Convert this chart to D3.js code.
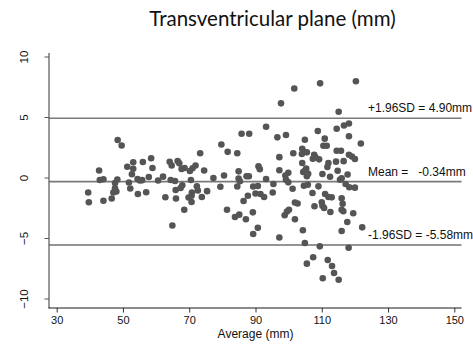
<!DOCTYPE html>
<html>
<head>
<meta charset="utf-8">
<script src="https://cdn.jsdelivr.net/npm/d3@7"></script>
<style>
  html, body { margin: 0; padding: 0; background: #fff; }
  svg { display: block; }
  text { font-family: "Liberation Sans", Arial, sans-serif; }
</style>
</head>
<body>
<svg id="chart" width="473" height="347"></svg>
<script>
// Bland–Altman agreement: average of two measurements vs. their difference (mm)
const averages = [
  39.5, 39.7, 42.8, 43.0, 44.1, 44.1, 46.6, 47.1, 47.6, 48.0, 47.6, 48.3, 48.4, 49.6,
  51.3, 51.8, 52.2, 52.7, 53.1, 53.1, 54.4, 55.1, 55.8, 54.5, 56.0, 57.0, 57.8, 58.5,
  58.9, 60.6, 62.1, 62.8, 64.1, 64.7, 64.4, 65.7, 65.9, 66.0, 64.9, 66.5, 67.0, 67.7,
  68.6, 67.9, 67.4, 68.5, 70.2, 71.0, 71.9, 70.5, 72.3, 72.6, 70.8, 69.8, 70.7, 70.7,
  73.3, 74.5, 73.8, 75.4, 77.3, 79.7, 81.6, 80.5, 79.4, 81.4, 84.5, 84.9, 84.9, 85.3,
  84.5, 85.8, 88.1, 87.3, 88.0, 87.7, 86.4, 89.3, 90.7, 90.0, 91.5, 92.6, 90.9, 91.3,
  93.2, 93.2, 95.4, 95.2, 83.8, 85.1, 87.1, 89.2, 90.7, 89.3, 97.2, 96.6, 99.2, 97.2,
  97.2, 97.7, 101.4, 101.7, 99.9, 99.0, 99.2, 99.9, 101.2, 101.9, 102.7, 98.8, 99.5,
  100.1, 101.9, 104.1, 104.7, 104.0, 105.5, 104.9, 104.1, 105.3, 104.9, 104.4, 105.9,
  105.5, 104.6, 105.8, 107.2, 107.8, 104.3, 104.9, 107.7, 108.1, 107.3, 109.2, 108.8,
  109.5, 110.9, 110.5, 111.5, 112.0, 111.7, 110.2, 112.5, 109.0, 110.0, 110.2, 110.7,
  111.0, 112.0, 113.0, 112.6, 109.4, 107.4, 105.5, 111.8, 113.1, 113.7, 115.1, 110.3,
  114.5, 115.8, 114.3, 116.6, 114.8, 115.1, 114.5, 116.7, 118.2, 118.2, 118.2, 119.1,
  120.0, 120.3, 121.8, 117.8, 116.0, 117.2, 118.3, 120.0, 116.0, 116.3, 116.0, 116.5,
  119.5, 117.7, 116.0, 122.2, 118.1, 115.5
];
const differences = [
  -1.24, -2.04, 0.58, -0.21, -0.14, -1.92, -1.74, -1.24, -0.89, -1.16, -0.45, -0.17, 3.10, 2.64,
  0.89, -0.41, -0.91, 0.27, 1.26, 0.72, -0.12, -0.25, -0.22, -1.36, 1.28, -1.22, 0.04, 1.59,
  0.79, -0.25, 0.07, -1.63, 1.30, 0.99, -0.21, -0.29, -1.03, -1.74, -3.97, 1.36, 1.17, 0.70,
  0.79, -0.64, -0.87, -2.66, 0.54, 0.76, 0.99, -0.21, -0.73, -1.07, -1.24, -1.65, -2.02, -1.51,
  2.00, 0.58, -1.61, -1.13, -0.04, 2.73, 2.12, 0.17, -0.76, -2.66, 2.00, 0.51, -0.08, -0.31,
  -0.74, 3.61, 3.61, 0.10, 0.10, -1.51, -1.94, -0.74, -0.70, -1.32, -1.36, -1.61, 0.93, 0.69,
  4.20, -0.12, -0.54, -1.24, -3.26, -3.07, -3.45, -2.88, -4.16, -4.67, -4.96, 3.32, 3.51, 1.68,
  0.60, 6.13, 2.00, 7.35, 0.39, 0.17, -0.19, -0.40, -0.93, -2.07, -2.15, -3.12, -2.81,
  -2.66, -3.45, 2.38, 2.13, 1.94, 2.08, 3.12, 1.20, 0.73, 0.56, 0.45, 0.31,
  0.10, -0.68, -0.60, -1.28, -2.38, -4.36, -5.41, 1.88, 1.67, 1.55, 1.50, 3.84,
  7.78, 3.21, 2.63, 2.63, 1.20, 0.87, 0.29, 0.06, -0.73, -2.05, -2.33, -2.52,
  -1.36, -1.61, -1.64, -2.85, -5.69, -6.59, -7.12, -6.82, -7.31, -7.89, -8.45, -8.33,
  2.21, 2.21, 1.31, 1.35, 0.56, 5.44, 4.03, 4.30, 4.46, 3.41, 1.88, 1.74,
  1.53, 7.96, 2.81, 0.25, -0.07, -0.54, -0.81, -0.84, -1.72, -2.17, -2.66, -2.79,
  -2.96, -3.68, -4.42, -4.12, -5.80, -0.18
];

// Limits of agreement
const limitValues = [4.90, -0.34, -5.58];
const limitLabels = ["+1.96SD = 4.90mm", "Mean =   -0.34mm", "-1.96SD = -5.58mm"];

const xTicks = [30, 50, 70, 90, 110, 130, 150];
const yTicks = [-10, -5, 0, 5, 10];

const chartTitle = "Transventricular plane (mm)";
const xTitle = "Average (mm)";

const svg = d3.select("#chart");

const x = d3.scaleLinear().domain([30, 150]).range([56.7, 454.3]);
const y = d3.scaleLinear().domain([-10, 10]).range([298.5, 56.5]);

const frame = { left: 49, right: 461.5, top: 53, bottom: 308 };

// Title
svg.append("text")
  .attr("x", 272.5)
  .attr("y", 26)
  .attr("text-anchor", "middle")
  .style("font-family", "Lato, 'Open Sans', sans-serif")
  .style("font-size", "20.5px")
  .attr("fill", "#111")
  .text(chartTitle);

// Limit lines
svg.append("g")
  .selectAll("line")
  .data(limitValues)
  .join("line")
  .attr("x1", frame.left)
  .attr("x2", frame.right)
  .attr("y1", d => y(d))
  .attr("y2", d => y(d))
  .attr("stroke", (d, i) => i === 2 ? "#2a2a2a" : "#7a7a7a")
  .attr("stroke-width", (d, i) => i === 2 ? 1.2 : 1.6);

svg.append("g")
  .selectAll("text")
  .data(limitValues)
  .join("text")
  .attr("x", 368)
  .attr("y", d => y(d) - 6)
  .style("font-size", "12px")
  .attr("fill", "#111")
  .style("white-space", "pre")
  .attr("xml:space", "preserve")
  .text((d, i) => limitLabels[i]);

// Points
svg.append("g")
  .selectAll("circle")
  .data(averages.map((a, i) => [a, differences[i]]))
  .join("circle")
  .attr("cx", d => x(d[0]))
  .attr("cy", d => y(d[1]))
  .attr("r", 3.3)
  .attr("fill", "#555555");

// Axes
const xAxis = svg.append("g")
  .attr("transform", `translate(0,${frame.bottom})`)
  .call(d3.axisBottom(x).tickValues(xTicks).tickSize(4.5).tickSizeOuter(0).tickPadding(4));
xAxis.select(".domain").remove();
xAxis.selectAll(".tick line").attr("stroke", "#333");
xAxis.selectAll(".tick text")
  .style("font-size", "11px")
  .style("font-family", "'Liberation Sans', Arial, sans-serif")
  .attr("fill", "#111");

const yAxis = svg.append("g")
  .attr("transform", `translate(${frame.left},0)`)
  .call(d3.axisLeft(y).tickValues(yTicks).tickSize(4.5).tickSizeOuter(0));
yAxis.select(".domain").remove();
yAxis.selectAll(".tick line").attr("stroke", "#555");
yAxis.selectAll(".tick text")
  .attr("x", null).attr("dy", null)
  .attr("transform", "translate(-21.5,0) rotate(-90)")
  .attr("text-anchor", "middle")
  .style("font-size", "11.5px")
  .style("font-family", "'Liberation Sans', Arial, sans-serif")
  .attr("fill", "#111");

svg.append("line")
  .attr("x1", frame.left).attr("x2", frame.left)
  .attr("y1", frame.top).attr("y2", frame.bottom)
  .attr("stroke", "#555").attr("stroke-width", 1.2);
svg.append("line")
  .attr("x1", frame.left - 0.6).attr("x2", frame.right)
  .attr("y1", frame.bottom).attr("y2", frame.bottom)
  .attr("stroke", "#1a1a1a").attr("stroke-width", 1.2);

svg.append("text")
  .attr("x", x(90))
  .attr("y", 337.5)
  .attr("text-anchor", "middle")
  .style("font-size", "12px")
  .attr("fill", "#111")
  .text(xTitle);
</script>
</body>
</html>
